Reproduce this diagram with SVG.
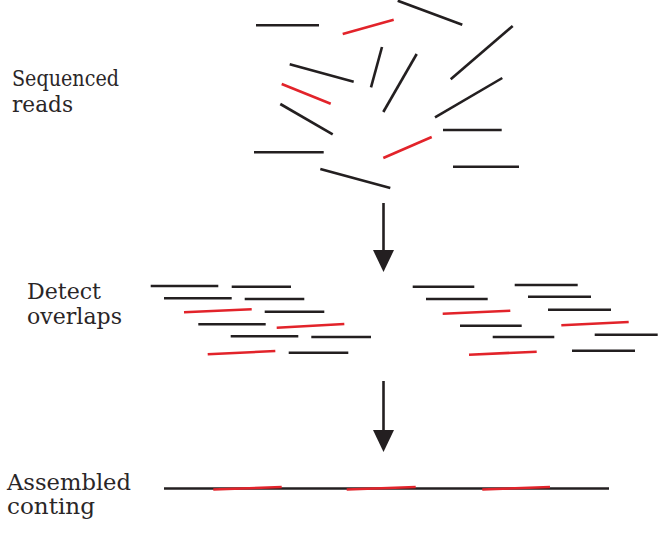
<svg xmlns="http://www.w3.org/2000/svg" width="662" height="539" viewBox="0 0 662 539">
<style>
.k{stroke:#231f20;stroke-width:2.6;fill:none}
.r{stroke:#e2232a;stroke-width:2.6;fill:none}
.t{font-family:"DejaVu Serif","Liberation Serif",serif;font-size:23px;fill:#2a2627}
.a{stroke:#231f20;stroke-width:2.6;fill:none}
</style>
<defs>
<marker id="head" markerUnits="userSpaceOnUse" markerWidth="22" markerHeight="21" viewBox="0 0 22 21" refX="0" refY="10.5" orient="auto">
<path d="M0,0 L22,10.5 L0,21 Z" fill="#231f20"/>
</marker>
</defs>
<rect width="662" height="539" fill="#ffffff"/>
<g id="label-reads">
<text class="t" x="12" y="86" textLength="107" lengthAdjust="spacingAndGlyphs">Sequenced</text>
<text class="t" x="12" y="112" textLength="61" lengthAdjust="spacingAndGlyphs">reads</text>
</g>
<g id="label-overlaps">
<text class="t" x="27" y="299" textLength="74" lengthAdjust="spacingAndGlyphs">Detect</text>
<text class="t" x="27" y="324" textLength="95" lengthAdjust="spacingAndGlyphs">overlaps</text>
</g>
<g id="label-contig">
<text class="t" x="7" y="490" textLength="124" lengthAdjust="spacingAndGlyphs">Assembled</text>
<text class="t" x="7" y="514" textLength="88" lengthAdjust="spacingAndGlyphs">conting</text>
</g>
<g id="reads">
<line class="k" x1="256" y1="25.3" x2="319" y2="25.3"/>
<line class="r" x1="342.7" y1="34" x2="393.7" y2="19.7"/>
<line class="k" x1="397.7" y1="0.7" x2="462.3" y2="24.7"/>
<line class="k" x1="512.7" y1="26" x2="450.7" y2="79.3"/>
<line class="k" x1="289.7" y1="64.3" x2="353.7" y2="81.7"/>
<line class="k" x1="382" y1="47" x2="371" y2="87.3"/>
<line class="k" x1="416.7" y1="54" x2="383.3" y2="112"/>
<line class="r" x1="281.7" y1="84" x2="330.7" y2="103.7"/>
<line class="k" x1="502.3" y1="78" x2="435" y2="117.3"/>
<line class="k" x1="280.3" y1="104" x2="332.7" y2="134.3"/>
<line class="k" x1="443" y1="130" x2="501.7" y2="130"/>
<line class="r" x1="383.3" y1="158" x2="431.7" y2="137"/>
<line class="k" x1="254" y1="152.3" x2="323.7" y2="152.3"/>
<line class="k" x1="453" y1="166.7" x2="519" y2="166.7"/>
<line class="k" x1="320.3" y1="169" x2="390.3" y2="188"/>
</g>
<g id="overlaps-left">
<line class="k" x1="150.7" y1="286" x2="218.3" y2="286"/>
<line class="k" x1="231.7" y1="286.7" x2="291" y2="286.7"/>
<line class="k" x1="164" y1="298.3" x2="231.7" y2="298.3"/>
<line class="k" x1="244.7" y1="299" x2="304.3" y2="299"/>
<line class="r" x1="184" y1="312.3" x2="251.7" y2="309.3"/>
<line class="k" x1="264.7" y1="311.7" x2="324.3" y2="311.7"/>
<line class="k" x1="198.3" y1="324.3" x2="265.7" y2="324.3"/>
<line class="r" x1="276.7" y1="327.7" x2="344.3" y2="324"/>
<line class="k" x1="230.7" y1="336.3" x2="298.3" y2="336.3"/>
<line class="k" x1="311.3" y1="337" x2="371" y2="337"/>
<line class="r" x1="207.7" y1="354.3" x2="275.3" y2="351"/>
<line class="k" x1="288.7" y1="352.7" x2="348.3" y2="352.7"/>
</g>
<g id="overlaps-right">
<line class="k" x1="412.7" y1="286.7" x2="474.3" y2="286.7"/>
<line class="k" x1="514.7" y1="285" x2="577.7" y2="285"/>
<line class="k" x1="426" y1="299" x2="487.7" y2="299"/>
<line class="k" x1="528" y1="296.7" x2="591" y2="296.7"/>
<line class="r" x1="442.7" y1="313.7" x2="510.3" y2="310.7"/>
<line class="k" x1="548" y1="309.7" x2="611" y2="309.7"/>
<line class="k" x1="460" y1="325.7" x2="521.7" y2="325.7"/>
<line class="r" x1="561.3" y1="325.3" x2="628.7" y2="322"/>
<line class="k" x1="492.7" y1="337" x2="554.3" y2="337"/>
<line class="k" x1="594.7" y1="334.7" x2="657.7" y2="334.7"/>
<line class="r" x1="469" y1="354.7" x2="536.7" y2="351.7"/>
<line class="k" x1="572" y1="350.7" x2="635" y2="350.7"/>
</g>
<g id="contig">
<line class="k" x1="164" y1="488.5" x2="609" y2="488.5"/>
<line class="r" x1="213.3" y1="489.5" x2="281.7" y2="487"/>
<line class="r" x1="346.7" y1="489.5" x2="415.7" y2="487"/>
<line class="r" x1="482.3" y1="489.5" x2="550" y2="487"/>
</g>
<g id="connectors">
<line class="a" x1="383.5" y1="203" x2="383.5" y2="250" marker-end="url(#head)"/>
<line class="a" x1="383.5" y1="381" x2="383.5" y2="430" marker-end="url(#head)"/>
</g>
</svg>
